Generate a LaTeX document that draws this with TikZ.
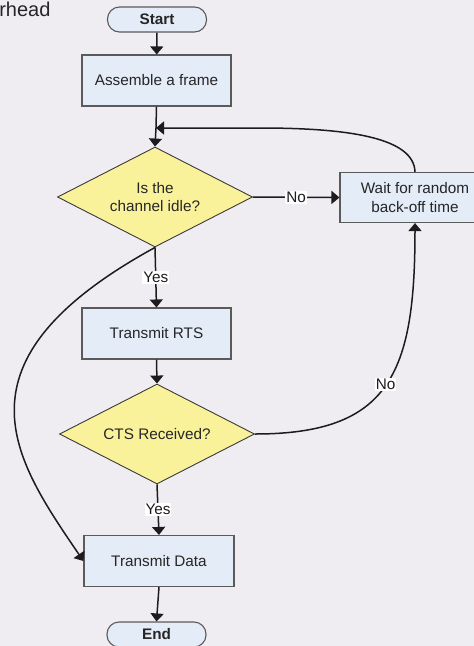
\documentclass[tikz,border=0pt]{standalone}
\usepackage{fontspec}
\setmainfont{Liberation Sans}
\usetikzlibrary{shapes.geometric,arrows.meta}
\definecolor{bgc}{HTML}{EFEDF2}
\definecolor{boxfill}{HTML}{E4ECF7}
\definecolor{boxline}{HTML}{5A5A5A}
\definecolor{dfill}{HTML}{FAF29A}
\definecolor{dline}{HTML}{3A3A3A}
\definecolor{ink}{HTML}{1C1C1C}
\definecolor{txt}{HTML}{262626}
\begin{document}
\begin{tikzpicture}[x=1pt,y=-1pt,
  every node/.style={font=\fontsize{15.3}{18.8}\selectfont, text=txt},
  procbox/.style={draw=boxline, line width=1.1pt, fill=boxfill, rectangle, minimum width=149pt, minimum height=51pt, inner sep=0pt, align=center},
  termbox/.style={draw=boxline, line width=1.1pt, fill=boxfill, rectangle, rounded corners=12pt, minimum width=99pt, minimum height=25pt, inner sep=0pt, font=\fontsize{15.3}{18.8}\selectfont\bfseries},
  decbox/.style={draw=dline, line width=0.9pt, fill=dfill, diamond, shape aspect=1.94, minimum width=195pt, minimum height=100pt, inner sep=0pt, align=center},
  conn/.style={draw=ink, line width=1.5pt, -{Triangle[width=13pt,length=8pt]}},
  plainconn/.style={draw=ink, line width=1.5pt},
  lab/.style={fill=white, inner sep=1pt, text=ink}]
\fill[bgc] (0,0) rectangle (474,646);
\useasboundingbox (0,0) rectangle (474,646);
\node[anchor=base east, font=\fontsize{20}{24}\selectfont, text=txt] (hd) at (54,16.5) {rhead};
\node[termbox] (start) at (157,19.5) {Start};
\node[procbox] (asm) at (156.5,80.5) {Assemble a frame};
\node[decbox] (d1) at (155,197) {Is the\\channel idle?};
\node[procbox, minimum width=150pt, minimum height=50pt] (wait) at (415,197.5) {Wait for random\\back-off time};
\node[procbox] (rts) at (156.5,333.5) {Transmit RTS};
\node[decbox] (d2) at (157,434) {CTS Received?};
\node[procbox, minimum width=150pt] (td) at (159,561) {Transmit Data};
\node[termbox] (end) at (156.5,634.5) {End};
\coordinate (j) at (156,128);
\draw[conn] (start) -- (asm);
\draw[plainconn] (asm.south) -- (j);
\draw[conn] (j) -- (d1.north);
\draw[conn] (wait.north) .. controls (414,138) and (350,128) .. (260,128) -- (j);
\draw[conn] (d1.east) -- node[lab] {No} (wait.west);
\draw[conn] (d1.south) -- node[lab] {Yes} (rts.north);
\draw[conn] (rts.south) -- (d2.north);
\draw[conn] (d2.south) -- node[lab] {Yes} (td.north);
\draw[conn] (d2.east) .. controls (390,434) and (415,373) .. node[lab, pos=0.5] {No} (wait.south);
\draw[conn] (d1.south) .. controls (-54,362) and (14,459) .. (td.west);
\draw[conn] (td.south) -- (end.north);
\end{tikzpicture}
\end{document}
